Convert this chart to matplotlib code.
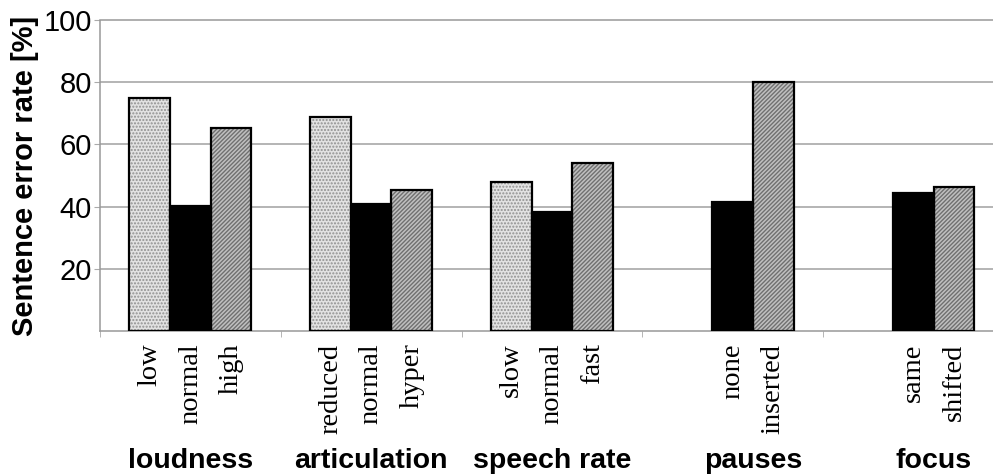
import numpy as np
import matplotlib.pyplot as plt
from matplotlib import transforms

# data
groups = ['loudness', 'articulation', 'speech rate', 'pauses', 'focus']
labels_a = ['low', 'reduced', 'slow', None, None]
labels_b = ['normal', 'normal', 'normal', 'none', 'same']
labels_c = ['high', 'hyper', 'fast', 'inserted', 'shifted']
vals_a = [75.0, 68.9, 48.0, np.nan, np.nan]
vals_b = [40.2, 40.8, 38.4, 41.4, 44.3]
vals_c = [65.3, 45.3, 54.1, 80.2, 46.3]

sans = ['Liberation Sans', 'DejaVu Sans']
serif = ['Liberation Serif', 'DejaVu Serif']

fig = plt.figure(figsize=(9.93, 4.75), dpi=100)
ax = fig.add_axes([100 / 993, (475 - 331) / 475, 1 - 100 / 993, 311 / 475])

w = 0.225
x = np.arange(len(groups)) + 0.5
series = [(vals_a, labels_a, -w, '#e2e2e2', '.....', '#909090'),
          (vals_b, labels_b, 0.0, 'black', None, 'black'),
          (vals_c, labels_c, w, '#c0c0c0', '////////', '#707070')]

tick_pos, tick_lab = [], []
for vals, labs, off, fc, hatch, hc in series:
    v = np.array(vals)
    ok = ~np.isnan(v)
    ax.bar(x[ok] + off, v[ok], w, color=fc, hatch=hatch, edgecolor=hc,
           linewidth=0, zorder=2)
    ax.bar(x[ok] + off, v[ok], w, fill=False, edgecolor='black',
           linewidth=1.6, zorder=3)
    for xi, lab in zip(x[ok] + off, np.array(labs, dtype=object)[ok]):
        tick_pos.append(xi)
        tick_lab.append(lab)

ax.set_xlim(0, 4.94)
ax.set_ylim(0, 100)

ax.set_xticks(tick_pos)
ax.set_xticklabels(tick_lab, rotation=90, family=serif, fontsize=20.5)
ax.tick_params(axis='x', which='major', length=0, pad=9)
ax.set_xticks(np.arange(0, 5), minor=True)
ax.tick_params(axis='x', which='minor', length=4, color='#aaaaaa')

ax.set_yticks([20, 40, 60, 80, 100])
ax.set_yticklabels(['20', '40', '60', '80', '100'], family=sans, fontsize=21)
ax.tick_params(axis='y', length=4, color='#aaaaaa', pad=2)

for yv in [20, 40, 60, 80]:
    ax.axhline(yv, color='#a8a8a8', linewidth=1.2, zorder=1)

for s in ['top', 'bottom', 'left']:
    ax.spines[s].set_color('#999999')
    ax.spines[s].set_linestyle((0, (1, 1)))
    ax.spines[s].set_linewidth(1.1)
ax.spines['right'].set_visible(False)

ax.set_ylabel('Sentence error rate [%]', family=sans, fontsize=21,
              fontweight='bold', labelpad=3)

# group names centred under the bars that exist
trans = transforms.blended_transform_factory(ax.transData, fig.transFigure)
for i, g in enumerate(groups):
    present = [x[i] + off for vals, _, off, *_ in series if not np.isnan(vals[i])]
    ax.text(np.mean(present), 7 / 475, g, transform=trans,
            ha='center', va='baseline', family=sans, fontsize=20.5,
            fontweight='bold')

fig.savefig('out.png', dpi=100)
